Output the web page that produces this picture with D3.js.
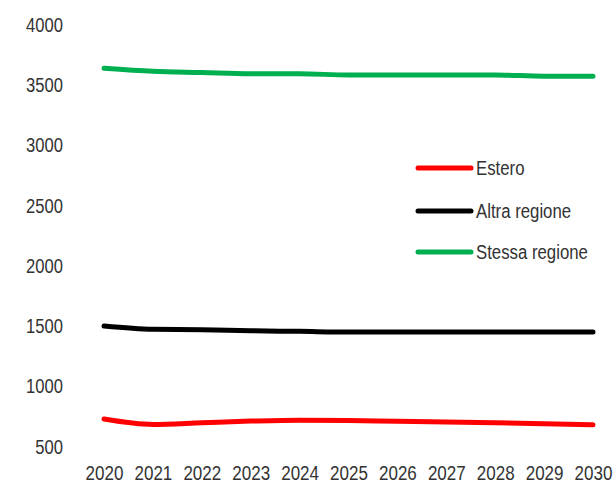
<!DOCTYPE html>
<html><head><meta charset="utf-8">
<script src="https://cdn.jsdelivr.net/npm/d3@7"></script>
<style>body{margin:0;background:#fff}text{font-family:"Liberation Sans",Arial,sans-serif;fill:#333}</style>
</head><body>
<svg id="c" width="614" height="483"></svg>
<script>
const years = [2020,2021,2022,2023,2024,2025,2026,2027,2028,2029,2030];
const estero = [728,683,697,711,719,716,709,703,697,689,680];
const altraRegione = [1500,1473,1470,1461,1456,1450,1450,1450,1450,1450,1450];
const stessaRegione = [3640,3615,3605,3595,3595,3585,3585,3585,3585,3575,3575];
const yTicks = [500,1000,1500,2000,2500,3000,3500,4000];
const seriesNames = ["Estero","Altra regione","Stessa regione"];
const seriesColors = ["#ff0000","#000000","#00b050"];
const seriesData = [estero, altraRegione, stessaRegione];

const svg = d3.select("#c");
const x = d3.scalePoint().domain(years).range([104,593]);
const y = d3.scaleLinear().domain([500,4000]).range([446.5,25]);

function narrow(sel, f){
  sel.each(function(){
    const w = this.getComputedTextLength();
    d3.select(this).attr("textLength", w*f).attr("lengthAdjust","spacingAndGlyphs");
  });
}

const yAxis = svg.append("g").attr("transform","translate(70,0)")
  .call(d3.axisLeft(y).tickValues(yTicks).tickSize(0).tickPadding(7).tickFormat(d3.format("d")));
yAxis.select(".domain").remove();
yAxis.selectAll("text").attr("font-size",20.5).style("fill","#333").call(narrow,0.81);

const xAxis = svg.append("g").attr("transform","translate(0,465)")
  .call(d3.axisBottom(x).tickSize(0).tickPadding(0).tickFormat(d3.format("d")));
xAxis.select(".domain").remove();
xAxis.selectAll("text").attr("font-size",20.5).style("fill","#333").attr("transform","scale(0.83,1)");

const line = d3.line().x((d,i)=>x(years[i])).y(d=>y(d)).curve(d3.curveMonotoneX);
seriesData.forEach((s,k)=>{
  svg.append("path").attr("d",line(s)).attr("fill","none")
    .attr("stroke",seriesColors[k]).attr("stroke-width",5).attr("stroke-linecap","round");
});

const legY = [168,211,252];
seriesNames.forEach((n,k)=>{
  svg.append("line").attr("x1",418).attr("x2",471).attr("y1",legY[k]).attr("y2",legY[k])
    .attr("stroke",seriesColors[k]).attr("stroke-width",5).attr("stroke-linecap","round");
  svg.append("text").attr("x",476).attr("y",legY[k]).attr("dy","0.35em")
    .attr("font-size",19.5).text(n).call(narrow,0.86);
});
</script>
</body></html>
